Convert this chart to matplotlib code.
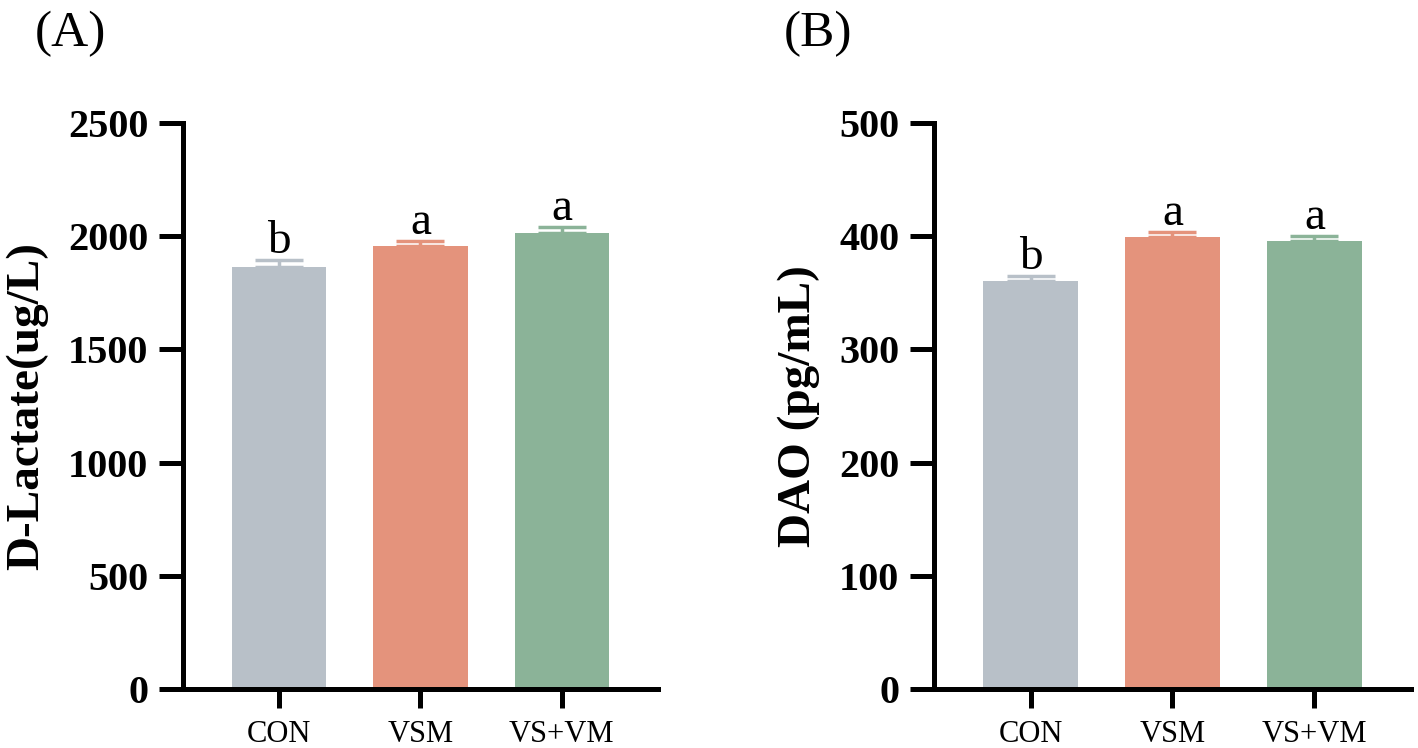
import numpy as np
import matplotlib
matplotlib.use("Agg")
import matplotlib.pyplot as plt

plt.rcParams['font.family'] = ['Liberation Serif', 'DejaVu Serif']

groups = ['CON', 'VSM', 'VS+VM']
colors = ['#b8c0c8', '#e4937c', '#8bb398']

# panel A: D-Lactate
lac_mean = [1865, 1958, 2016]
lac_err = [30, 21, 26]
lac_sig = ['b', 'a', 'a']

# panel B: DAO
dao_mean = [360, 399, 395.5]
dao_err = [5, 4.4, 4.5]
dao_sig = ['b', 'a', 'a']

fig = plt.figure(figsize=(14.18, 7.48), dpi=100)
axA = fig.add_axes([183/1418, 59/748, 475/1418, 566/748])
axB = fig.add_axes([934/1418, 59/748, 477/1418, 566/748])


def panel(ax, mean, err, sig, ymax, step, ylabel):
    x = np.arange(len(groups))
    ax.bar(x, mean, width=0.67, color=colors, zorder=2)
    for i in range(len(groups)):
        ax.errorbar(x[i], mean[i], yerr=[[0], [err[i]]], color=colors[i],
                    capsize=17, elinewidth=2.5, capthick=2.5, zorder=1)
        ax.annotate(sig[i], (x[i], mean[i] + err[i]), xytext=(0, 5),
                    textcoords='offset points', ha='center', va='baseline',
                    fontsize=34)
    ax.set_xlim(-0.68, 2.68)
    ax.set_ylim(0, ymax)
    ax.set_yticks(np.arange(0, ymax + 1, step))
    ax.set_xticks(x)
    ax.set_xticklabels(groups, fontsize=22)
    for lab in ax.get_yticklabels():
        lab.set_fontsize(29)
        lab.set_fontweight('bold')
    ax.spines['top'].set_visible(False)
    ax.spines['right'].set_visible(False)
    for s in ['left', 'bottom']:
        ax.spines[s].set_linewidth(3.6)
    ax.tick_params(axis='y', length=17, width=3.6, pad=8)
    ax.tick_params(axis='x', length=14, width=3.6, pad=8)
    ax.set_ylabel(ylabel, fontsize=34, fontweight='bold', labelpad=14)


panel(axA, lac_mean, lac_err, lac_sig, 2500, 500, 'D-Lactate(ug/L)')
panel(axB, dao_mean, dao_err, dao_sig, 500, 100, 'DAO (pg/mL)')

fig.text(35/1418, 1 - 11/748, '(A)', fontsize=37, va='top', ha='left')
fig.text(784/1418, 1 - 11/748, '(B)', fontsize=37, va='top', ha='left')

fig.savefig('out.png', dpi=100)
